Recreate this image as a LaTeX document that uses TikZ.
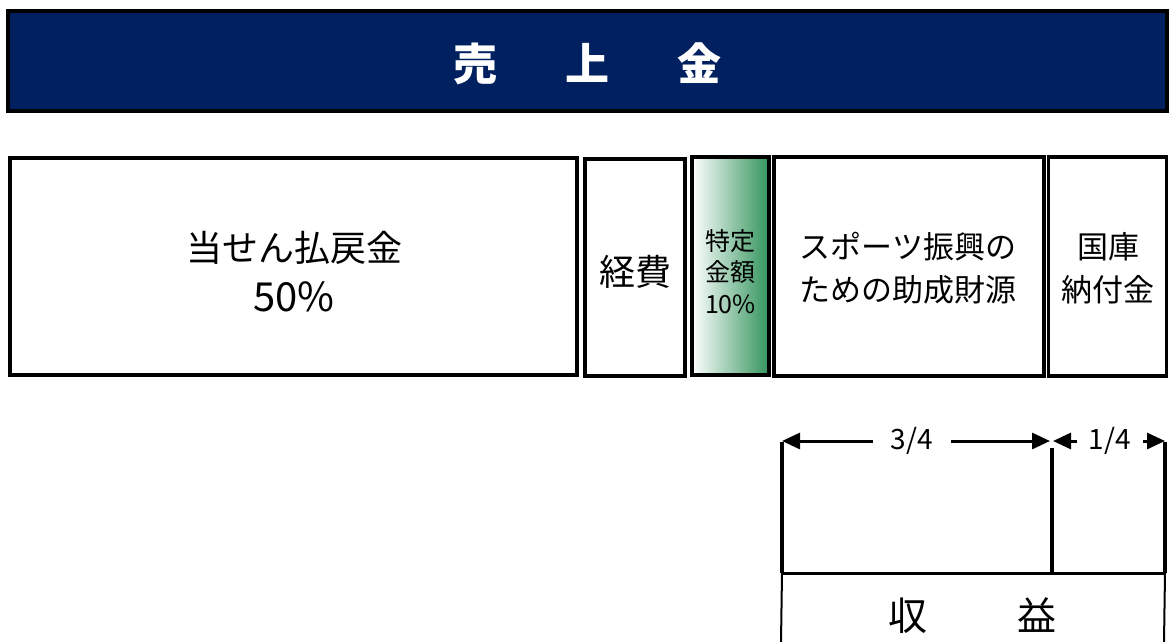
\documentclass[tikz,border=0pt]{standalone}
\usepackage{fontspec}
\setmainfont{Noto Sans CJK JP}
\usetikzlibrary{arrows.meta}
\definecolor{navy}{RGB}{0,32,96}
\definecolor{grn}{RGB}{50,148,92}
\tikzset{
  bx/.style={draw=black, line width=3.5pt, fill=white, inner sep=0pt},
  lbl/.style={align=center, inner sep=0pt},
  arr/.style={line width=3pt, -{Triangle[length=18pt 0 0,width=16pt 0]}},
  vline/.style={line width=3.5pt},
  thinline/.style={line width=2pt},
  frac/.style={inner ysep=0pt, font=\fontsize{28}{30}\selectfont},
}
\begin{document}
\begin{tikzpicture}[x=1pt,y=-1pt]
\useasboundingbox (0,0) rectangle (1169,642);

% title bar
\node[draw=black, line width=3.5pt, fill=navy, inner sep=0pt,
      minimum width=1159pt, minimum height=100pt] (title) at (587.5,61) {};
\node[text=white, inner sep=0pt, font=\fontsize{44}{48}\selectfont\bfseries]
      (titletext) at (587.5,64) {売\hspace{68pt}上\hspace{68pt}金};

% boxes
\node[bx, minimum width=567pt, minimum height=217pt] (b1) at (293.5,266.5) {};
\node[lbl, font=\fontsize{36}{50}\selectfont] (t1) at (294,272) {当せん払戻金\\{\fontsize{40}{50}\selectfont 50\%}};

\node[bx, minimum width=100pt, minimum height=217pt] (b2) at (635,267.5) {};
\node[lbl, font=\fontsize{36}{40}\selectfont] (t2) at (635,272) {経費};

\node[bx, minimum width=77pt, minimum height=218pt,
      left color=white, right color=grn] (b3) at (730.5,266) {};
\node[lbl, font=\fontsize{25}{31.5}\selectfont] (t3) at (730.5,271.5) {特定\\金額\\10\%};

\node[bx, minimum width=270pt, minimum height=219pt] (b4) at (909,266.5) {};
\node[lbl, font=\fontsize{31}{43}\selectfont] (t4) at (908,268.5) {スポーツ振興の\\ための助成財源};

\node[bx, minimum width=118pt, minimum height=219pt] (b5) at (1107.5,266.5) {};
\node[lbl, font=\fontsize{31}{43}\selectfont] (t5) at (1108,268.5) {国庫\\納付金};

% dimension lines
\coordinate (Ltop) at (782,442);
\coordinate (Lbot) at (782,573);
\coordinate (Mtop) at (1052,448);
\coordinate (Mbot) at (1052,573);
\coordinate (Rtop) at (1165,442);
\coordinate (Rbot) at (1165,573);
\coordinate (L34) at (782,441);
\coordinate (R34) at (1050,441);
\coordinate (L14) at (1053,441);
\coordinate (R14) at (1165,441);

\node[frac, inner xsep=18pt] (q34) at (912,441) {3/4};
\node[frac, inner xsep=12pt] (q14) at (1110,441) {1/4};

\draw[arr] (q34.west) -- (L34);
\draw[arr] (q34.east) -- (R34);
\draw[arr] (q14.west) -- (L14);
\draw[arr] (q14.east) -- (R14);

\draw[vline] (Ltop) -- (Lbot);
\draw[vline] (Mtop) -- (Mbot);
\draw[vline] (Rtop) -- (Rbot);

% revenue box (cut by the lower edge)
\coordinate (BL) at (781,642);
\coordinate (BR) at (1164,642);
\draw[line width=3pt] (Lbot) -- (Rbot);
\draw[thinline] (Lbot) -- (BL);
\draw[thinline] (Rbot) -- (BR);
\node[inner sep=0pt, font=\fontsize{39}{42}\selectfont] (rev) at (972.5,616) {収\hspace{90pt}益};
\end{tikzpicture}
\end{document}
